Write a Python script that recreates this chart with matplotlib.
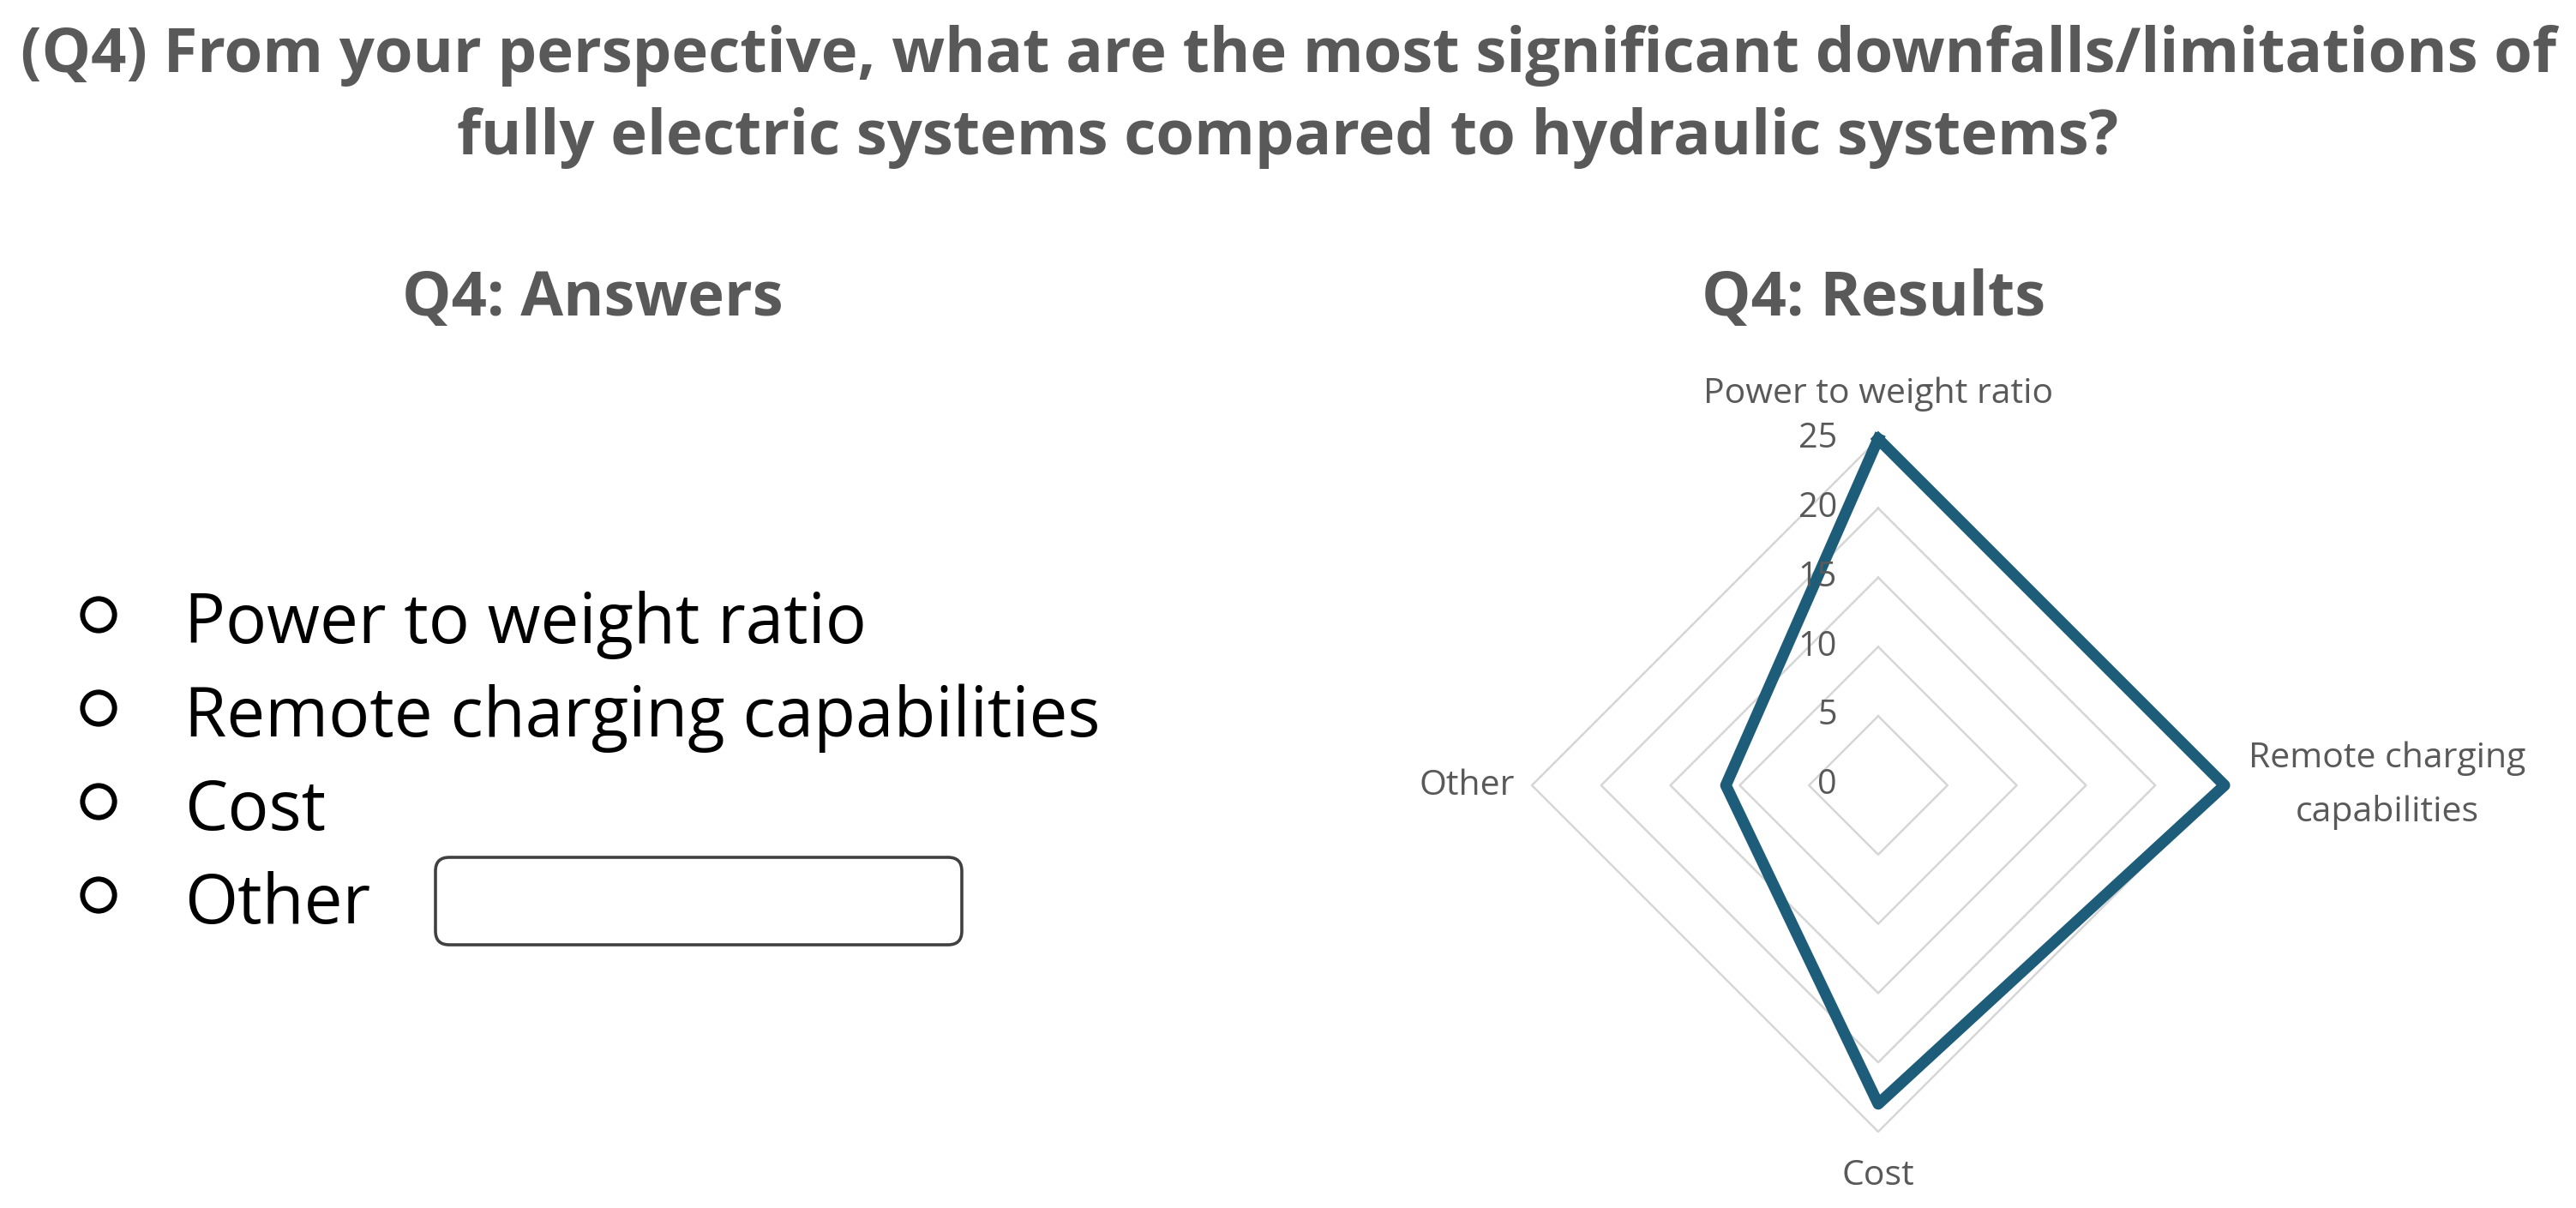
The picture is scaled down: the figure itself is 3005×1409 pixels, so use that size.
import numpy as np
import matplotlib
matplotlib.use("Agg")
import matplotlib.pyplot as plt
from matplotlib.patches import FancyBboxPatch

# data
categories = ["Power to weight ratio", "Remote charging\ncapabilities", "Cost", "Other"]
counts = [25, 25, 23, 11]
r_ticks = [0, 5, 10, 15, 20, 25]
answers = ["Power to weight ratio", "Remote charging capabilities", "Cost", "Other"]

title_lines = ["(Q4) From your perspective, what are the most significant downfalls/limitations of",
               "fully electric systems compared to hydraulic systems?"]

W, H = 3005, 1409
GRAY = "#595959"
LINE = "#1d5d79"
GRID = "#d6d6d6"
label_font = ["Open Sans", "DejaVu Sans"]
head_font = ["Open Sans", "DejaVu Sans"]

fig = plt.figure(figsize=(W / 100, H / 100), dpi=100)
fig.patch.set_facecolor("white")

# overlay in pixel units for the page layout
ov = fig.add_axes([0, 0, 1, 1])
ov.set_xlim(0, W)
ov.set_ylim(H, 0)
ov.axis("off")

ov.text(W / 2, 84, title_lines[0], ha="center", va="baseline", fontsize=52,
        fontweight="bold", color=GRAY, family=head_font)
ov.text(W / 2, 180, title_lines[1], ha="center", va="baseline", fontsize=52,
        fontweight="bold", color=GRAY, family=head_font)

ov.text(691, 368, "Q4: Answers", ha="center", va="baseline", fontsize=52,
        fontweight="bold", color=GRAY, family=head_font)
ov.text(2186, 368, "Q4: Results", ha="center", va="baseline", fontsize=52,
        fontweight="bold", color=GRAY, family=head_font)

# answer list
row0, step = 750, 109
for i, a in enumerate(answers):
    yb = row0 + i * step
    ov.scatter([115], [yb - 33], s=720, facecolors="none", edgecolors="black",
               linewidths=4.3, zorder=3)
    ov.text(215, yb, a, ha="left", va="baseline", fontsize=57.5, color="black",
            family=label_font)
    if a == "Other":
        box = FancyBboxPatch((508, 1000), 614, 102,
                             boxstyle="round,pad=0,rounding_size=16",
                             facecolor="white", edgecolor="#404040", linewidth=2.6)
        ov.add_patch(box)

# radar chart
cx, cy, R = 2191, 916, 404
ax = fig.add_axes([(cx - R) / W, (H - cy - R) / H, 2 * R / W, 2 * R / H],
                  projection="polar")
ax.set_theta_offset(np.pi / 2)
ax.set_theta_direction(-1)
ax.set_ylim(0, r_ticks[-1])
ax.grid(False)
ax.spines["polar"].set_visible(False)
ax.set_xticks([])
ax.set_yticks([])
ax.patch.set_alpha(0)

n = len(categories)
angles = np.linspace(0, 2 * np.pi, n, endpoint=False)
ang_c = np.append(angles, angles[0])

for lvl in r_ticks[1:]:
    ax.plot(ang_c, [lvl] * (n + 1), color=GRID, lw=1.8, zorder=1, clip_on=False)

vals = np.append(counts, counts[0])
ax.plot(ang_c, vals, color=LINE, lw=9.5, solid_joinstyle="round", zorder=3,
        clip_on=False)

for t in r_ticks:
    ax.annotate(str(t), xy=(0, t), xytext=(-48, 0), textcoords="offset pixels",
                ha="right", va="center", fontsize=28.5, color=GRAY, family=label_font)

top = r_ticks[-1]
offsets = [((0, 42), "center", "baseline"),
           ((190, 0), "center", "center"),
           ((0, -62), "center", "baseline"),
           ((-20, -11), "right", "baseline")]
for ang, lab, (off, ha, va) in zip(angles, categories, offsets):
    ax.annotate(lab, xy=(ang, top), xytext=off, textcoords="offset pixels",
                ha=ha, va=va, fontsize=29.5, color=GRAY, family=label_font,
                multialignment="center", linespacing=1.7, annotation_clip=False)

fig.savefig("out.png", dpi=100, facecolor="white")
